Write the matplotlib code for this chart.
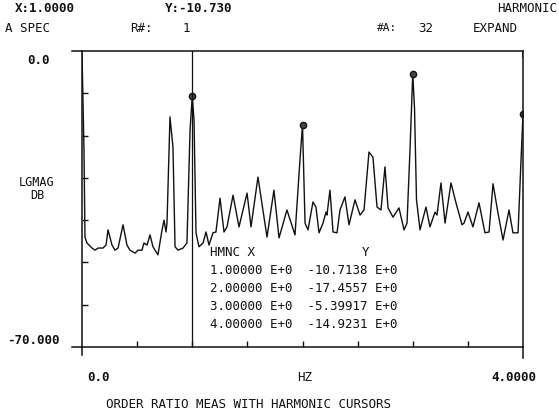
import matplotlib
matplotlib.use("Agg")
import matplotlib.pyplot as plt

# spectrum trace (HZ, dB)
freq = [0.000, 0.018, 0.027, 0.045, 0.091, 0.118, 0.145, 0.190, 0.218, 0.236,
        0.272, 0.299, 0.327, 0.372, 0.408, 0.435, 0.481, 0.508, 0.544, 0.562,
        0.590, 0.617, 0.644, 0.689, 0.726, 0.744, 0.762, 0.771, 0.798, 0.825,
        0.844, 0.871, 0.916, 0.952, 0.980, 1.000, 1.016, 1.034, 1.061, 1.098,
        1.125, 1.152, 1.188, 1.215, 1.252, 1.288, 1.315, 1.370, 1.424, 1.497,
        1.533, 1.596, 1.678, 1.741, 1.787, 1.859, 1.932, 1.977, 2.000, 2.023,
        2.050, 2.095, 2.122, 2.150, 2.186, 2.213, 2.222, 2.249, 2.277, 2.313,
        2.340, 2.385, 2.422, 2.476, 2.522, 2.558, 2.603, 2.639, 2.676, 2.712,
        2.748, 2.776, 2.821, 2.875, 2.921, 2.948, 2.975, 3.000, 3.016, 3.034,
        3.066, 3.120, 3.156, 3.202, 3.220, 3.256, 3.293, 3.347, 3.392, 3.447,
        3.465, 3.501, 3.546, 3.601, 3.655, 3.692, 3.728, 3.773, 3.819, 3.873,
        3.909, 3.955, 3.982, 4.000]
mag = [-0.5, -23.4, -44.0, -45.4, -46.6, -47.1, -46.6, -46.6, -45.9, -42.3,
       -45.9, -47.1, -46.6, -41.1, -45.9, -47.1, -47.8, -47.1, -47.1, -45.4,
       -45.9, -43.5, -46.3, -48.2, -42.3, -40.0, -42.8, -40.7, -15.6, -22.7,
       -46.3, -47.1, -46.6, -45.4, -18.7, -10.71, -16.3, -43.0, -46.3, -45.4,
       -42.8, -45.9, -43.0, -42.8, -34.8, -42.8, -41.6, -34.1, -41.6, -33.6,
       -41.6, -29.8, -44.0, -32.9, -44.2, -37.6, -43.5, -25.8, -17.46, -40.7,
       -42.3, -35.7, -36.9, -43.0, -40.7, -38.1, -38.8, -32.9, -42.8, -43.0,
       -37.6, -34.5, -41.1, -35.2, -38.8, -37.6, -23.9, -25.1, -36.9, -37.6,
       -27.4, -37.1, -39.3, -37.1, -42.3, -40.7, -23.4, -5.40, -13.5, -35.2,
       -42.3, -36.9, -41.6, -38.1, -38.8, -31.2, -40.7, -31.2, -35.9, -41.1,
       -40.7, -38.1, -41.6, -35.9, -43.0, -42.8, -31.4, -38.3, -44.7, -37.6,
       -43.0, -43.0, -25.8, -14.92]

# harmonic cursor readout
hmnc_x = [1.0, 2.0, 3.0, 4.0]
hmnc_y = [-10.7138, -17.4557, -5.39917, -14.9231]

W, H = 559, 419
ink = "#111111"
mono = "DejaVu Sans Mono"

fig = plt.figure(figsize=(W / 100, H / 100), dpi=100)
ax = fig.add_axes([82 / W, 1 - 347 / H, 441 / W, 296 / H])


def txt(x, y, s, ha="left", bold=False, size=9):
    fig.text(x / W, 1 - y / H, s, ha=ha, va="center", fontsize=size,
             family=mono, color=ink, weight="bold" if bold else "normal")


ax.plot(freq, mag, color=ink, lw=1.0)
ax.plot(hmnc_x, hmnc_y, ls="none", marker="o", ms=4.5, mfc="#444444",
        mec=ink, mew=1.0)
ax.axvline(1.0, color=ink, lw=0.9)

ax.set_xlim(0, 4)
ax.set_ylim(-70, 0)
ax.set_xticks([0.5 * i for i in range(1, 8)])
ax.set_yticks(range(-60, 0, 10))
ax.tick_params(direction="in", length=4, width=1, color=ink,
               labelbottom=False, labelleft=False)
for s in ax.spines.values():
    s.set_color(ink)
    s.set_linewidth(1.1)

# little overhangs of the frame like the plotter drew
for yy in (0, -70):
    ax.plot([-0.09, 0], [yy, yy], color=ink, lw=1.1, clip_on=False)
ax.plot([0, 0], [-70, -72], color=ink, lw=1.1, clip_on=False)
ax.plot([4, 4], [-70, -72.6], color=ink, lw=1.1, clip_on=False)
ax.plot([4, 4], [0, -1.5], color=ink, lw=1.1)

# header
txt(15, 9, "X:1.0000", bold=True)
txt(165, 9, "Y:-10.730", bold=True)
txt(557, 9, "HARMONIC", ha="right")
txt(5, 28, "A SPEC")
txt(130, 28, "R#:")
txt(183, 28, "1")
txt(377, 28, "#A:", size=8)
txt(418, 28, "32")
txt(473, 28, "EXPAND")

# axis labels
txt(39, 60, "0.0", ha="center", bold=True)
txt(37, 182, "LGMAG", ha="center", size=8.5)
txt(37, 195, "DB", ha="center", size=8.5)
txt(33, 340, "-70.000", ha="center", bold=True)
txt(98, 377, "0.0", ha="center", bold=True)
txt(305, 377, "HZ", ha="center")
txt(536, 377, "4.0000", ha="right", bold=True)
txt(248, 404, "ORDER RATIO MEAS WITH HARMONIC CURSORS", ha="center")

# harmonic table
txt(210, 252, "HMNC X")
txt(366, 252, "Y", ha="center")
for i, (hx, hy) in enumerate(zip(hmnc_x, hmnc_y)):
    ys = f"{hy:.4f}" if abs(hy) >= 10 else f"{hy:.5f}"
    txt(210, 270 + 18 * i, f"{hx:.5f} E+0  {ys} E+0")

fig.savefig("out.png", dpi=100)
